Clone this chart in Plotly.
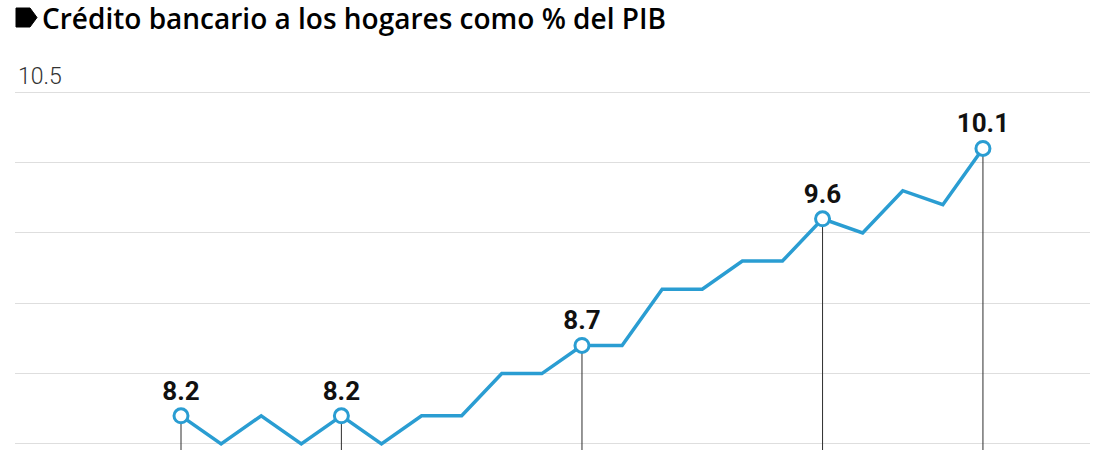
import plotly.graph_objects as go

# crédito bancario a los hogares, % del PIB (trimestral)
valores = [8.2, 8.0, 8.2, 8.0, 8.2, 8.0, 8.2, 8.2, 8.5, 8.5, 8.7,
           8.7, 9.1, 9.1, 9.3, 9.3, 9.6, 9.5, 9.8, 9.7, 10.1]
periodos = list(range(len(valores)))
destacados = [0, 4, 10, 16, 20]
etiquetas_y = [8.0, 8.5, 9.0, 9.5, 10.0, 10.5]
textos_y = ["", "", "", "", "", "10.5"]

AZUL = "#2a9dd2"
W, H = 1100, 450
ML, MR, MT, MB = 15, 10, 57, 0

fig = go.Figure()

# lineas verticales desde los puntos destacados
xs, ys = [], []
for i in destacados:
    xs += [periodos[i], periodos[i], None]
    ys += [valores[i], 7.0, None]
fig.add_trace(go.Scatter(x=xs, y=ys, mode="lines",
                         line=dict(color="#2e2e2e", width=1),
                         hoverinfo="skip", showlegend=False))

fig.add_trace(go.Scatter(x=periodos, y=valores, mode="lines",
                         line=dict(color=AZUL, width=3.5),
                         hoverinfo="skip", showlegend=False))

fig.add_trace(go.Scatter(
    x=[periodos[i] for i in destacados],
    y=[valores[i] for i in destacados],
    mode="markers+text",
    text=[f"{valores[i]:.1f}" for i in destacados],
    textposition="top center",
    textfont=dict(family="Roboto", size=26, color="#111111", weight="bold"),
    marker=dict(size=14, color="white", line=dict(color=AZUL, width=3)),
    hoverinfo="skip", showlegend=False))

fig.update_xaxes(range=[-4.14, 22.67], visible=False, showgrid=False, zeroline=False)
fig.update_yaxes(range=[7.957, 10.75], tickvals=etiquetas_y, ticktext=textos_y,
                 ticklabelposition="inside top", showgrid=True,
                 gridcolor="#dedede", gridwidth=1, zeroline=False, showline=False,
                 ticks="", tickfont=dict(family="Roboto", size=23, color="#333333", weight=300))

# vineta del titulo
pw, ph = W - ML - MR, H - MT - MB
def px(x):
    return (x - ML) / pw
def py(y):
    return (H - MB - y) / ph
fig.add_shape(type="path", xref="paper", yref="paper",
              path=f"M {px(16)},{py(8)} L {px(30)},{py(8)} L {px(37)},{py(17.5)} "
                   f"L {px(30)},{py(27)} L {px(16)},{py(27)} Z",
              fillcolor="#000000", line=dict(color="#000000", width=1))

fig.update_layout(
    width=W, height=H,
    margin=dict(l=ML, r=MR, t=MT, b=MB),
    paper_bgcolor="white", plot_bgcolor="white",
    title=dict(text="Crédito bancario a los hogares como % del PIB",
               xref="container", yref="container", x=42 / W, xanchor="left",
               y=1 - 19 / H, yanchor="middle",
               font=dict(family="Open Sans", size=28, color="#000000", weight=600)),
)

fig.write_html("out.html", config={"displayModeBar": False},
               post_script="document.body.style.margin='0';")
